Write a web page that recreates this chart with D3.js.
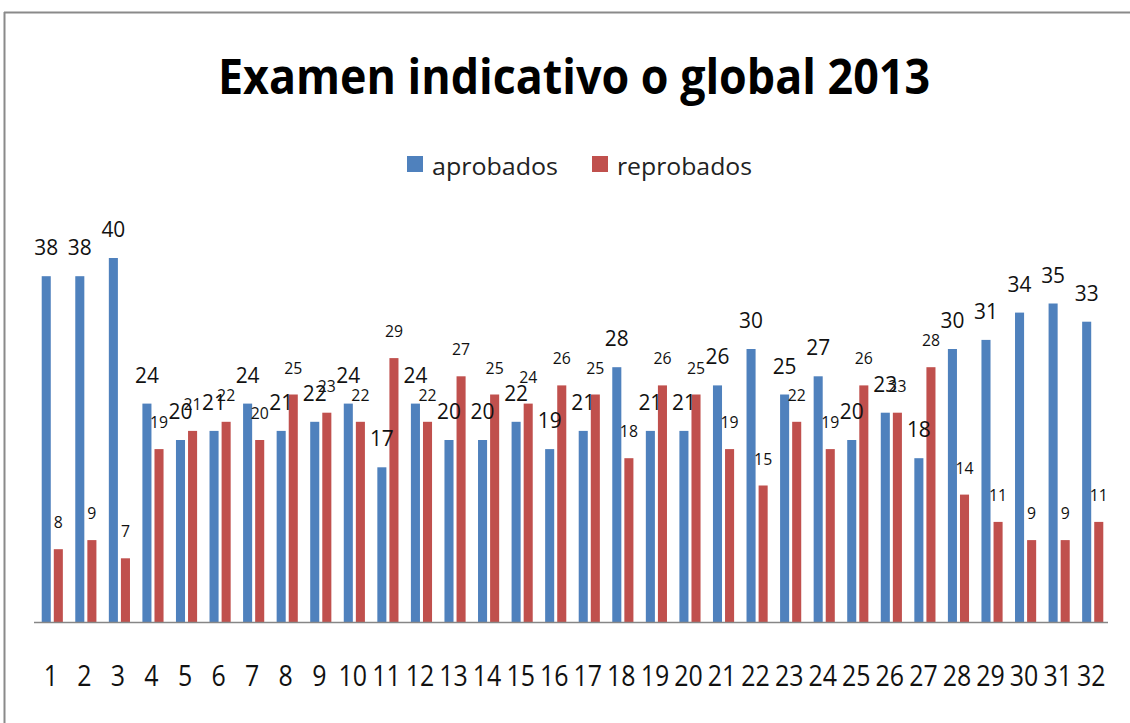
<!DOCTYPE html>
<html>
<meta charset="utf-8">
<head>
  <title>Examen indicativo o global 2013</title>
  <script src="https://d3js.org/d3.v7.min.js"></script>
  <style type="text/css">
    body {margin: 0; background: #fff;}
    text {font-family: "Open Sans", "Noto Sans", sans-serif; fill: #111;}
  </style>
</head>
<body>
<div id="chart"></div>
<script>
    // Values
    var categories = ["1", "2", "3", "4", "5", "6", "7", "8", "9", "10", "11", "12", "13", "14", "15", "16",
                      "17", "18", "19", "20", "21", "22", "23", "24", "25", "26", "27", "28", "29", "30", "31", "32"];
    var aprobados = [38, 38, 40, 24, 20, 21, 24, 21, 22, 24, 17, 24, 20, 20, 22, 19,
                     21, 28, 21, 21, 26, 30, 25, 27, 20, 23, 18, 30, 31, 34, 35, 33];
    var reprobados = [8, 9, 7, 19, 21, 22, 20, 25, 23, 22, 29, 22, 27, 25, 24, 26,
                      25, 18, 26, 25, 19, 15, 22, 19, 26, 23, 28, 14, 11, 9, 9, 11];
    var seriesNames = ["aprobados", "reprobados"];
    var seriesColors = ["#4F81BD", "#C0504D"];

    var width = 1130,
        height = 723,
        plot = {left: 34, right: 1108, top: 212.5, bottom: 622};

    var svg = d3.select("#chart")
        .append("svg")
        .attr("width", width)
        .attr("height", height);

    // chart frame (top and left edges show)
    svg.append("line")
        .attr("x1", 4).attr("x2", width).attr("y1", 12.5).attr("y2", 12.5)
        .attr("stroke", "#8a8a8a").attr("stroke-width", 2);
    svg.append("line")
        .attr("x1", 4.5).attr("x2", 4.5).attr("y1", 12).attr("y2", height)
        .attr("stroke", "#8a8a8a").attr("stroke-width", 2);

    // Title
    svg.append("text")
        .attr("x", 218)
        .attr("y", 94)
        .attr("font-size", 48)
        .attr("font-weight", "bold")
        .attr("textLength", 712)
        .attr("lengthAdjust", "spacingAndGlyphs")
        .style("fill", "#000")
        .text("Examen indicativo o global 2013");

    // Legend
    var legendPos = [{x: 407, w: 126}, {x: 592, w: 135}];
    var legend = svg.selectAll(".legend")
        .data(seriesNames)
        .enter()
        .append("g")
        .attr("class", "legend");
    legend.append("rect")
        .attr("x", function(d, i) { return legendPos[i].x; })
        .attr("y", 156)
        .attr("width", 16)
        .attr("height", 16)
        .attr("fill", function(d, i) { return seriesColors[i]; });
    legend.append("text")
        .attr("x", function(d, i) { return legendPos[i].x + 25; })
        .attr("y", 175)
        .attr("font-size", 24)
        .attr("textLength", function(d, i) { return legendPos[i].w; })
        .attr("lengthAdjust", "spacingAndGlyphs")
        .style("fill", "#222")
        .text(function(d) { return d; });

    // Scales
    var x0 = d3.scaleBand()
        .domain(categories)
        .range([plot.left + 1.5, plot.right + 1.5])
        .paddingInner(0.37)
        .paddingOuter(0.185);

    var x1 = d3.scaleBand()
        .domain(seriesNames)
        .range([0, x0.bandwidth()])
        .paddingInner(0.25);

    var y = d3.scaleLinear()
        .domain([0, 45])
        .range([plot.bottom, plot.top]);

    var rows = categories.map(function(c, i) {
        return {cat: c, values: [
            {key: "aprobados", value: aprobados[i]},
            {key: "reprobados", value: reprobados[i]}
        ]};
    });

    var groups = svg.selectAll(".group")
        .data(rows)
        .enter()
        .append("g")
        .attr("class", "group")
        .attr("transform", function(d) { return "translate(" + x0(d.cat) + ",0)"; });

    groups.selectAll("rect")
        .data(function(d) { return d.values; })
        .enter()
        .append("rect")
        .attr("x", function(d) { return x1(d.key); })
        .attr("y", function(d) { return y(d.value); })
        .attr("width", x1.bandwidth())
        .attr("height", function(d) { return y(0) - y(d.value); })
        .attr("fill", function(d, i) { return seriesColors[i]; });

    // data labels: blue larger, red smaller
    groups.selectAll(".lbl")
        .data(function(d) { return d.values; })
        .enter()
        .append("text")
        .attr("class", "lbl")
        .attr("text-anchor", "middle")
        .attr("font-size", function(d) { return d.key == "aprobados" ? 22 : 17; })
        .attr("transform", function(d) {
            var cx = x1(d.key) + x1.bandwidth() / 2;
            var s = d.key == "aprobados" ? 0.95 : 0.93;
            return "translate(" + cx + "," + (y(d.value) - 21) + ") scale(" + s + ",1)";
        })
        .text(function(d) { return d.value; });

    // X axis baseline
    svg.append("line")
        .attr("x1", plot.left).attr("x2", plot.right)
        .attr("y1", plot.bottom + 0.5).attr("y2", plot.bottom + 0.5)
        .attr("stroke", "#868686").attr("stroke-width", 1.5);

    // category labels
    var xc = d3.scaleBand().domain(categories).range([plot.left, plot.right]);
    svg.selectAll(".tick-label")
        .data(categories)
        .enter()
        .append("text")
        .attr("class", "tick-label")
        .attr("text-anchor", "middle")
        .attr("font-size", 29)
        .attr("transform", function(d) {
            return "translate(" + (xc(d) + xc.bandwidth() / 2) + ",686) scale(0.86,1)";
        })
        .text(function(d) { return d; });
</script>
</body>
</html>
